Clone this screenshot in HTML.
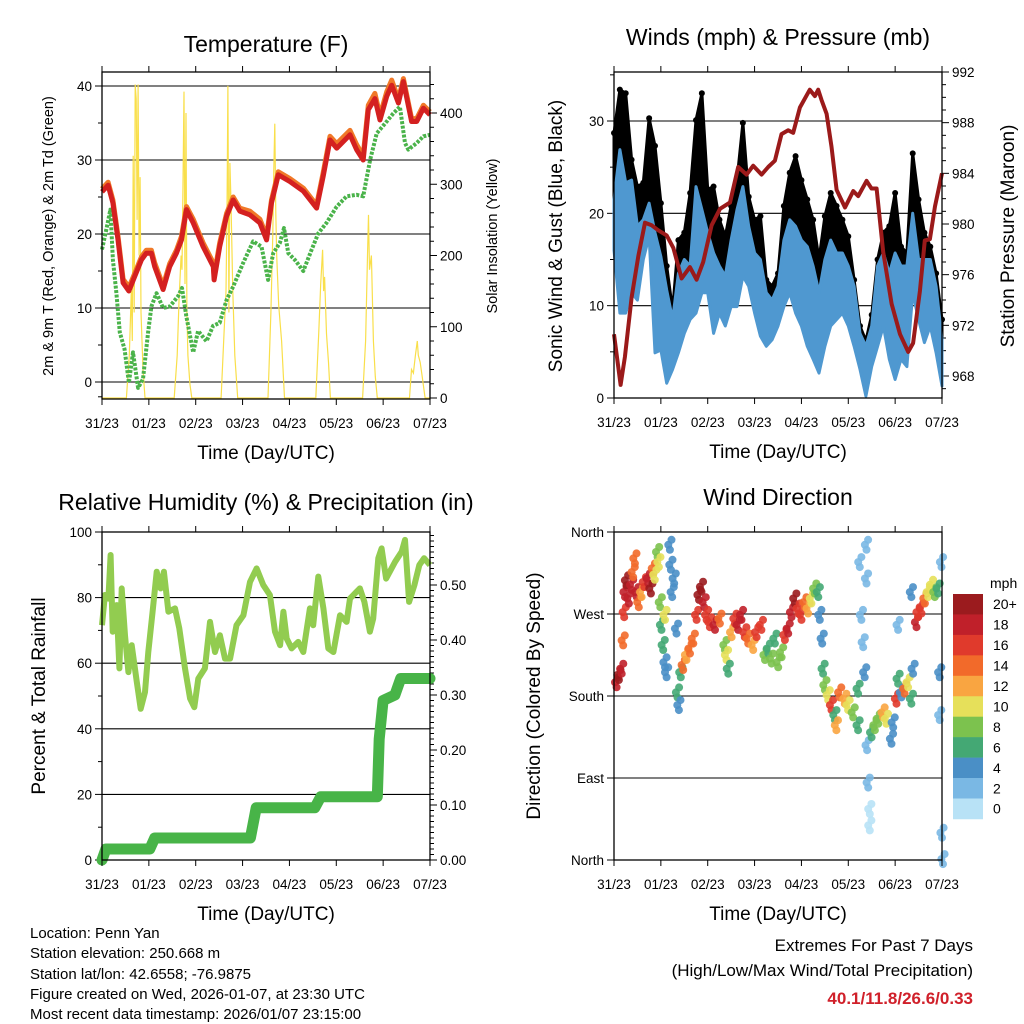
<!DOCTYPE html>
<html><head><meta charset="utf-8"><style>
html,body{margin:0;padding:0;background:#fff;}
svg{display:block;font-family:"Liberation Sans",Arial,sans-serif;}
</style></head><body>
<svg id="fig" xmlns="http://www.w3.org/2000/svg" width="1024" height="1024" viewBox="0 0 1024 1024">
<rect width="1024" height="1024" fill="#fff"/>
<g id="p1"></g>
<g id="p2"></g>
<g id="p3"></g>
<g id="p4"></g>
<g font-size="15" fill="#000">
<text x="30" y="938">Location: Penn Yan</text>
<text x="30" y="958">Station elevation: 250.668 m</text>
<text x="30" y="979">Station lat/lon: 42.6558; -76.9875</text>
<text x="30" y="999">Figure created on Wed, 2026-01-07, at 23:30 UTC</text>
<text x="30" y="1019">Most recent data timestamp: 2026/01/07 23:15:00</text>
</g>
<g text-anchor="end">
<text x="973" y="951" font-size="17">Extremes For Past 7 Days</text>
<text x="973" y="976" font-size="17">(High/Low/Max Wind/Total Precipitation)</text>
<text x="973" y="1004" font-size="17" font-weight="bold" fill="#d0202a">40.1/11.8/26.6/0.33</text>
</g>
</svg>
<script>
// ---------- data ----------
const dayLabels=["31/23","01/23","02/23","03/23","04/23","05/23","06/23","07/23"];
const tempHours=[0,3.1,5.6,8.2,10.8,13.8,16.8,20.2,22.7,25.3,27,31.3,34.7,38.1,40.7,43.3,46.7,51.8,57,57.4,60.3,63.8,67.2,70.6,75.7,80.9,84.3,86.8,90.3,96.2,103.1,109.9,113.3,116.8,120.2,127,130.4,133.8,136.4,139.8,142.4,145.8,148.4,151.8,154.4,158.6,161.2,164.6,168];
const temp2m=[25.7,26.6,24.2,19.2,13.4,12.3,14.3,16.5,17.4,17.4,15.6,12.5,15.6,17.4,19.2,23.3,21.5,18.3,15.6,13.8,18.3,22.4,24.6,23.1,22.6,21.5,19.2,24.2,28.0,27.1,25.8,23.5,27.8,32.7,31.6,33.4,31.4,30.0,36.8,38.3,35.4,38.6,40.1,37.7,40.6,35.2,35.2,37.0,36.1];
const temp9m=[26.1,27.0,24.6,19.7,13.9,12.8,14.7,16.9,17.8,17.8,16.1,13.0,16.0,17.8,19.7,23.7,22.0,18.8,16.1,14.3,18.8,22.8,25.0,23.5,23.1,22.0,19.7,24.6,28.4,27.5,26.2,23.9,28.3,33.2,32.2,34.0,32.1,30.6,37.4,39.0,36.0,39.2,40.8,38.2,41.0,35.6,35.6,37.4,36.5];
const tdHours=[0,2.2,4.3,5.6,7.4,9.1,11.6,13.8,15.9,18.5,21,23.6,25.3,27.9,31.3,34.7,39,41,43.2,46.7,49.2,53.5,56.9,60.3,63.8,67.2,72.3,77.4,81.7,85.1,87.7,91.1,93.2,95.4,98.8,103.1,107.4,110.8,115,120.2,125.3,130.4,133.8,137.3,140.7,145.8,149.2,152.6,155.2,156.9,161.2,164.6,168];
const dewpoint=[17.9,20.6,23.3,16.5,12.0,6.7,4.4,-0.1,4.0,-0.8,0.4,6.7,10.2,12.0,10.0,10.2,11.6,12.7,8.9,4.0,6.9,5.5,7.6,8.0,11.1,12.9,16.1,19.0,18.3,13.8,17.4,18.8,20.8,17.4,16.5,15.0,17.9,20.1,21.5,23.7,25.1,25.3,25.1,30.0,33.6,35.2,36.3,37.2,32.3,31.4,32.3,33.2,33.4];
const solarHours=[0,12.5,14,15,15.5,16,16.5,17,17.5,18,18.5,19,19.5,20,21,22,37,38.5,39.5,40.5,41,41.5,42,42.5,43,43.5,44,45,46,61,62.5,63.5,64,64.5,65,65.5,66,67,68,69.5,85,86.5,87.5,88,88.5,89,89.5,90.5,92,93.5,109.5,111,112,113,113.5,114,115,116,117,133.5,135,136,136.5,137,138,139,140,141,157.5,158.5,159.5,160.5,161.5,162,163,164,165.5,168];
const solarValues=[0,0,60,150,80,340,120,440,420,250,440,200,310,120,40,0,0,60,140,200,180,300,430,160,400,120,60,20,0,0,90,150,260,438,120,330,280,150,60,0,0,120,230,320,385,260,200,130,80,0,0,90,160,208,150,170,90,50,0,0,80,200,257,180,200,80,30,0,0,40,35,60,80,60,50,30,0,0];

const windHours=[0,3,6,9,12,15,18,21,24,27,30,33,36,39,42,45,48,51,54,57,60,63,66,69,72,75,78,81,84,87,90,93,96,99,102,105,108,111,114,117,120,123,126,129,132,135,138,141,144,147,150,153,156,159,162,165,168];
const windMin=[16,9.2,9.2,11.4,10.6,15,17.5,4.9,5.2,1.6,3.1,4.9,7,8.5,9.2,11.4,11.4,7,9.2,7.8,9.9,9.9,13.2,12.1,9.2,6.7,5.6,6.3,7.8,9.9,11.4,9.2,7.8,5.6,4.2,2.7,5.6,7.8,8.5,9.2,7.8,5.6,3.1,0.2,3.4,5.6,7.8,4.2,2,4.2,3.4,11.4,8.5,6,7.8,4.9,1.3];
const windMax=[21.5,26.9,23.3,23.6,18.6,19.3,21.1,17.9,15.3,11.7,8.5,13.5,15,14.3,22.9,20.4,17.9,15.7,14.3,13.2,17.1,20.4,22.9,18.6,15.7,15,11.4,10.6,12.1,17.1,19.3,18.6,17.1,16.4,14.3,11.4,15,17.1,15.7,15.7,14.3,12.1,7,5.6,7.8,14.3,15.7,13.5,15.7,14.3,14.3,20,15,15,15,12.1,6.3];
const gustMax=[28.7,33.4,33,25.8,22.9,23.3,30.3,27.3,21.1,14.3,9.5,17.1,17.9,22.2,30.1,33,22.6,22.9,19.3,17.5,20.8,23.6,29.8,21.8,19.3,19.7,12.8,12.1,13.5,20.8,24.4,26.2,23.6,21.5,19.3,15,19.7,22.2,20.8,19.3,17.5,12.8,7.8,6.2,9,15,17.9,18.6,22.2,16.4,15.7,26.5,21.5,17.9,16.4,13.5,8.5];
const presHours=[0,3.4,5.6,9.0,12.5,15.9,19.3,22.7,27.0,30.4,34.6,38.9,42.3,45.7,50.0,54.3,59.4,63.6,67.9,71.3,75.6,79.0,82.4,85.8,89.2,91.8,95.2,100.3,102.9,104.6,106.3,108.9,111.4,114.0,118.3,122.5,125.1,129.4,131.9,134.5,137.9,142.2,146.5,150.7,153.2,156.7,159.2,161.8,164.4,168];
const pressure=[971.3,967.3,969.5,974.2,977.5,980.1,979.9,979.5,979.1,978.1,975.7,976.6,975.6,977,979.9,981.2,981.7,984.5,983.9,984.6,983.9,984.5,985.0,987.1,987.4,987.2,989.2,990.6,990.1,990.6,989.8,988.7,986.1,982.7,981.3,982.6,982.2,983.4,982.8,982.8,977.8,973.7,971.3,969.9,970.6,974.7,978.7,978.8,981.4,984.0];

const rhHours=[0,1.5,3.3,4.4,5.5,7.5,8.9,10.1,11.8,13.5,15.2,17.8,19.8,22.0,23.7,25.9,28.0,30.0,31.7,34.0,37.4,39.6,42.5,45.1,47.3,49.3,52.7,55.3,57.9,60.4,63.0,65.6,68.9,72.4,75.8,79.2,82.6,86.0,88.6,91.2,92.9,94.6,97.1,100.5,103.1,106.5,108.2,110.8,113.4,115.9,118.5,121.9,125.3,127.0,130.4,132.1,134.4,137.2,138.9,141.5,143.2,145.5,150.1,153.5,155.2,157.3,160.0,162.5,165.0,168];
const rhValues=[71.6,80.8,79.7,93,69.6,77.7,58.4,82.8,68.5,57.3,65.5,54.3,46.1,51.2,63.4,75.7,87.9,82.8,87.9,75.7,76.7,70.6,58.4,49.2,46.6,55.3,58.4,72.6,63.4,68.5,61.4,61.4,71.6,74.6,84.8,88.9,83.8,80.8,69.6,65.5,75.7,67.5,64.5,66.5,63.4,76.7,71.6,86.4,76.7,64.5,63.4,74.6,72.6,79.7,81.8,82.8,78.7,69.6,73.6,92,95,85.8,90.9,94,97.6,78.7,83.8,89.9,92,89.9];
const precipHours=[0,2,24.5,27,76,79,109,112,141,142,144,150,153,168];
const precipValues=[0,0.02,0.02,0.04,0.04,0.095,0.095,0.115,0.115,0.22,0.29,0.30,0.33,0.33];

const dirHours=[0.5,1.7,3.1,3.9,4.4,4.8,5.6,6.8,8.2,9,9.9,10.8,11.9,13.3,14.7,16.7,18.1,19.3,20.1,21.5,22.2,22.9,23.5,24.4,25.3,25.3,26.1,27.8,28.3,29,30,31.2,31.7,32.4,33.4,34.6,36.3,38.1,39.8,41.5,42.7,44,45.4,46.6,48.3,50.9,53.4,56,56.8,57.7,59.4,61.1,62.8,64.5,66.2,67.9,70.5,72.2,74.7,76.5,78.2,79.9,81.6,83.3,85,86.7,88.4,90.1,91.8,93.5,95.2,96.9,98.6,100.3,102,103.8,104.6,105.8,106.3,107.2,108.9,110.6,112.3,113.1,114.8,117.4,119.1,121.7,124.2,124.2,125.1,125.9,126.8,127.6,128.5,128.5,128.8,129.4,130.2,130.2,131.1,132.8,134.5,137,138.7,141.3,142.2,143.9,144.7,144.7,146.4,148.1,149.8,151.5,151.5,152.4,154.1,154.9,156.7,158.4,160.1,161.8,163.5,165.2,166,166,166.9,167.2,167.7];
const dirValues=[195,203,210,241,272,294,307,287,302,316,331,294,283,294,305,309,298,320,313,338,327,283,258,236,269,217,206,346,324,294,309,254,184,170,206,214,225,232,243,269,291,300,283,269,261,258,265,236,225,210,250,265,258,269,250,243,236,250,258,225,232,221,243,217,228,247,254,272,287,276,269,283,276,287,298,294,269,243,210,192,181,170,159,148,184,177,170,162,188,148,327,269,239,206,346,309,126,85,56,38,140,148,155,162,155,133,151,177,199,258,184,188,195,177,294,210,261,272,276,287,294,302,294,298,206,159,327,30,1];
const dirSpeeds=[19,20,19,15,17,19,20,18,19,14,15,18,14,13,16,19,20,15,11,8,10,9,7,7,10,4,4,4,4,4,5,4,6,4,7,14,13,15,14,17,20,20,19,17,16,18,15,9,10,7,13,16,18,18,16,15,12,17,16,8,7,8,7,8,9,17,19,19,20,17,16,14,12,10,8,7,4,4,6,9,10,16,6,13,15,12,10,8,7,6,2,2,3,4,2,2,3,2,1,1,6,8,9,12,11,5,4,17,7,3,5,14,10,7,4,5,19,17,16,14,11,10,8,6,4,3,2,3,3];
const speedLabels=["0","2","4","6","8","10","12","14","16","18","20+"];
const speedColors=["#b8e2f6","#7ab8e4","#4a8fc6","#44a874","#7cc24e","#e6e05a","#f9a541","#f26a2a","#e03a2c","#c0202a","#9b1b1e"];

// ---------- helpers ----------
const NS="http://www.w3.org/2000/svg";
function mk(parent,tag,attrs,txt){const e=document.createElementNS(NS,tag);for(const k in attrs)e.setAttribute(k,attrs[k]);if(txt!==undefined)e.textContent=txt;parent.appendChild(e);return e;}
function linScale(d0,d1,r0,r1){return v=>r0+(v-d0)/(d1-d0)*(r1-r0);}
function pts(xs,ys,fx,fy){return xs.map((h,i)=>fx(h).toFixed(1)+","+fy(ys[i]).toFixed(1)).join(" ");}

function frame(g,L,R,T,B,xs,name){
  dayLabels.forEach((lab,i)=>{
    const x=xs(i*24);
    const t1=mk(g,"line",{x1:x,x2:x,y1:B,y2:B+6,stroke:"#000","stroke-width":1});
    
    
    const t2=mk(g,"line",{x1:x,x2:x,y1:T,y2:T-6,stroke:"#000","stroke-width":1});
    
    
    const tl=mk(g,"text",{x:x,y:B+29,"font-size":13.5,"text-anchor":"middle"},lab);
    
    
  });
  const xt=mk(g,"text",{x:(L+R)/2,y:B+60,"font-size":19,"text-anchor":"middle"},"Time (Day/UTC)");
  
  
}
function box(g,L,R,T,B){
  const r=mk(g,"rect",{x:L,y:T,width:R-L,height:B-T,fill:"none",stroke:"#000","stroke-width":1.3});
  
  
}
function yTicks(g,vals,fy,x,side,labFn,grid,L,R,major){
  vals.forEach(v=>{
    const y=fy(v);
    const len=major?7:4;
    const t=mk(g,"line",{x1:x,x2:x+(side<0?-len:len),y1:y,y2:y,stroke:"#000","stroke-width":1});
    
    
    if(grid){const gl=mk(g,"line",{x1:L,x2:R,y1:y,y2:y,stroke:"#000","stroke-width":1.1});
      
      }
    if(labFn){const tl=mk(g,"text",{x:x+(side<0?-10:10),y:y+5,"font-size":13.5,"text-anchor":side<0?"end":"start"},labFn(v));
      
      }
  });
}
function vTitle(g,x,y,txt,size,name){
  const t=mk(g,"text",{x:0,y:0,"font-size":size,"text-anchor":"middle",transform:`translate(${x},${y}) rotate(-90)`},txt);
  
  
}
function title(g,x,y,txt){const t=mk(g,"text",{x:x,y:y,"font-size":23,"text-anchor":"middle"},txt);
  
  }

// ---------- panel 1 ----------
(function(){
  const g=document.getElementById("p1");
  const L=102,R=430,T=72,B=399;
  const xs=linScale(0,168,L,R), yt=linScale(0,40,382,86), ys=linScale(0,400,398,113);
  title(g,266,52,"Temperature (F)");
  yTicks(g,[0,10,20,30,40],yt,L,-1,v=>String(v),true,L,R,true);
  yTicks(g,[-2,5,15,25,35],yt,L,-1,null,false,L,R,false);
  yTicks(g,[0,100,200,300,400],ys,R,1,v=>String(v),false,L,R,true);
  const minors=[];for(let v=20;v<460;v+=20){if(v%100)minors.push(v);}
  yTicks(g,minors,ys,R,1,null,false,L,R,false);
  const sol=mk(g,"polyline",{points:pts(solarHours,solarValues,xs,ys),fill:"none",stroke:"#f9df4a","stroke-width":1.2});
  
  
  const td=mk(g,"polyline",{points:pts(tdHours,dewpoint,xs,yt),fill:"none",stroke:"#4ab34a","stroke-width":4,"stroke-dasharray":"3 1.5","stroke-linejoin":"round"});
  
  
  const o=mk(g,"polyline",{points:pts(tempHours,temp9m,xs,yt),fill:"none",stroke:"#f07828","stroke-width":5,"stroke-linejoin":"round"});
  
  
  const r=mk(g,"polyline",{points:pts(tempHours,temp2m,xs,yt),fill:"none",stroke:"#d42020","stroke-width":5,"stroke-linejoin":"round"});
  
  
  box(g,L,R,T,B);
  frame(g,L,R,T,B,xs);
  vTitle(g,53,236,"2m & 9m T (Red, Orange) & 2m Td (Green)",14.5,"left-y-axis-title");
  vTitle(g,497,236,"Solar Insolation (Yellow)",14.5,"right-y-axis-title");
})();

// ---------- panel 2 ----------
(function(){
  const g=document.getElementById("p2");
  const L=614,R=942,T=72,B=398;
  const xs=linScale(0,168,L,R), yw=linScale(0,30,398,121), yp=linScale(968,992,376,72);
  title(g,778,45,"Winds (mph) & Pressure (mb)");
  yTicks(g,[0,10,20,30],yw,L,-1,v=>String(v),true,L,R,true);
  yTicks(g,[5,15,25,35],yw,L,-1,null,false,L,R,false);
  yTicks(g,[968,972,976,980,984,988,992],yp,R,1,v=>String(v),false,L,R,true);
  const mn=[];for(let v=967;v<=991;v++){if(v%4)mn.push(v);}
  yTicks(g,mn,yp,R,1,null,false,L,R,false);
  const gustPts=windHours.map((h,i)=>xs(h).toFixed(1)+","+yw(gustMax[i]).toFixed(1)).concat(windHours.map((h,i)=>xs(h).toFixed(1)+","+yw(windMin[i]+1).toFixed(1)).reverse()).join(" ");
  const gb=mk(g,"polygon",{points:gustPts,fill:"#000",stroke:"#000","stroke-width":3,"stroke-linejoin":"round"});
  
  
  windHours.forEach((h,i)=>{
    const d=mk(g,"circle",{cx:xs(h),cy:yw(gustMax[i]),r:3,fill:"#000"});
    
    
  });
  const bandPts=windHours.map((h,i)=>xs(h).toFixed(1)+","+yw(windMax[i]).toFixed(1)).concat(windHours.map((h,i)=>xs(h).toFixed(1)+","+yw(windMin[i]).toFixed(1)).reverse()).join(" ");
  const wb=mk(g,"polygon",{points:bandPts,fill:"#4f98d0",stroke:"#4f98d0","stroke-width":3,"stroke-linejoin":"round"});
  
  
  const p=mk(g,"polyline",{points:pts(presHours,pressure,xs,yp),fill:"none",stroke:"#9b1a1a","stroke-width":4,"stroke-linejoin":"round"});
  
  
  box(g,L,R,T,B);
  frame(g,L,R,T,B,xs);
  vTitle(g,562,236,"Sonic Wind & Gust (Blue, Black)",19,"left-y-axis-title");
  vTitle(g,1014,236,"Station Pressure (Maroon)",19,"right-y-axis-title");
})();

// ---------- panel 3 ----------
(function(){
  const g=document.getElementById("p3");
  const L=102,R=430,T=532,B=860;
  const xs=linScale(0,168,L,R), yr=linScale(0,100,860,532), yq=linScale(0,0.5,860,585);
  title(g,266,510,"Relative Humidity (%) & Precipitation (in)");
  yTicks(g,[0,20,40,60,80,100],yr,L,-1,v=>String(v),true,L,R,true);
  yTicks(g,[10,30,50,70,90],yr,L,-1,null,false,L,R,false);
  yTicks(g,[0,0.1,0.2,0.3,0.4,0.5],yq,R,1,v=>v.toFixed(2),false,L,R,true);
  const mn=[];for(let k=1;k<60;k++){if(k%10)mn.push(k/100);}
  yTicks(g,mn,yq,R,1,null,false,L,R,false);
  const rh=mk(g,"polyline",{points:pts(rhHours,rhValues,xs,yr),fill:"none",stroke:"#92cc50","stroke-width":6,"stroke-linejoin":"round"});
  
  
  const pr=mk(g,"polyline",{points:pts(precipHours,precipValues,xs,yq),fill:"none",stroke:"#48b448","stroke-width":11,"stroke-linejoin":"round","stroke-linecap":"round"});
  
  
  box(g,L,R,T,B);
  frame(g,L,R,T,B,xs);
  vTitle(g,45,696,"Percent & Total Rainfall",19,"left-y-axis-title");
})();

// ---------- panel 4 ----------
(function(){
  const g=document.getElementById("p4");
  const L=614,R=942,T=532,B=860;
  const xs=linScale(0,168,L,R), yd=linScale(0,360,860,532);
  title(g,778,505,"Wind Direction");
  const dirNames=["North","East","South","West","North"];
  yTicks(g,[0,90,180,270,360],yd,L,-1,v=>dirNames[v/90],true,L,R,true);
  dirHours.forEach((h,i)=>{
    const bin=Math.min(10,Math.floor(dirSpeeds[i]/2));
    const c=mk(g,"circle",{cx:xs(h).toFixed(1),cy:yd(dirValues[i]).toFixed(1),r:4,fill:speedColors[bin],"fill-opacity":0.9});
    
    
    for(let k=1;k<=2;k++){
      const c2=mk(g,"circle",{cx:(xs(h)+k*1.6).toFixed(1),cy:(yd(dirValues[i])+(k%2?5:-5)).toFixed(1),r:4,fill:speedColors[bin],"fill-opacity":0.9});
      
      
    }
  });
  box(g,L,R,T,B);
  frame(g,L,R,T,B,xs);
  vTitle(g,540,696,"Direction (Colored By Speed)",19,"left-y-axis-title");
  const cb=mk(g,"g",{});
  
  
  const u=mk(cb,"text",{x:990,y:588,"font-size":14},"mph");
  
  
  const top=594,h=20.45;
  speedColors.slice().reverse().forEach((col,k)=>{
    const rr=mk(cb,"rect",{x:953,y:top+k*h,width:30,height:h+0.3,fill:col});
    
    
    const tl=mk(cb,"text",{x:993,y:top+k*h+h/2+5,"font-size":14},speedLabels[10-k]);
    
    
  });
})();
</script>
</body></html>
